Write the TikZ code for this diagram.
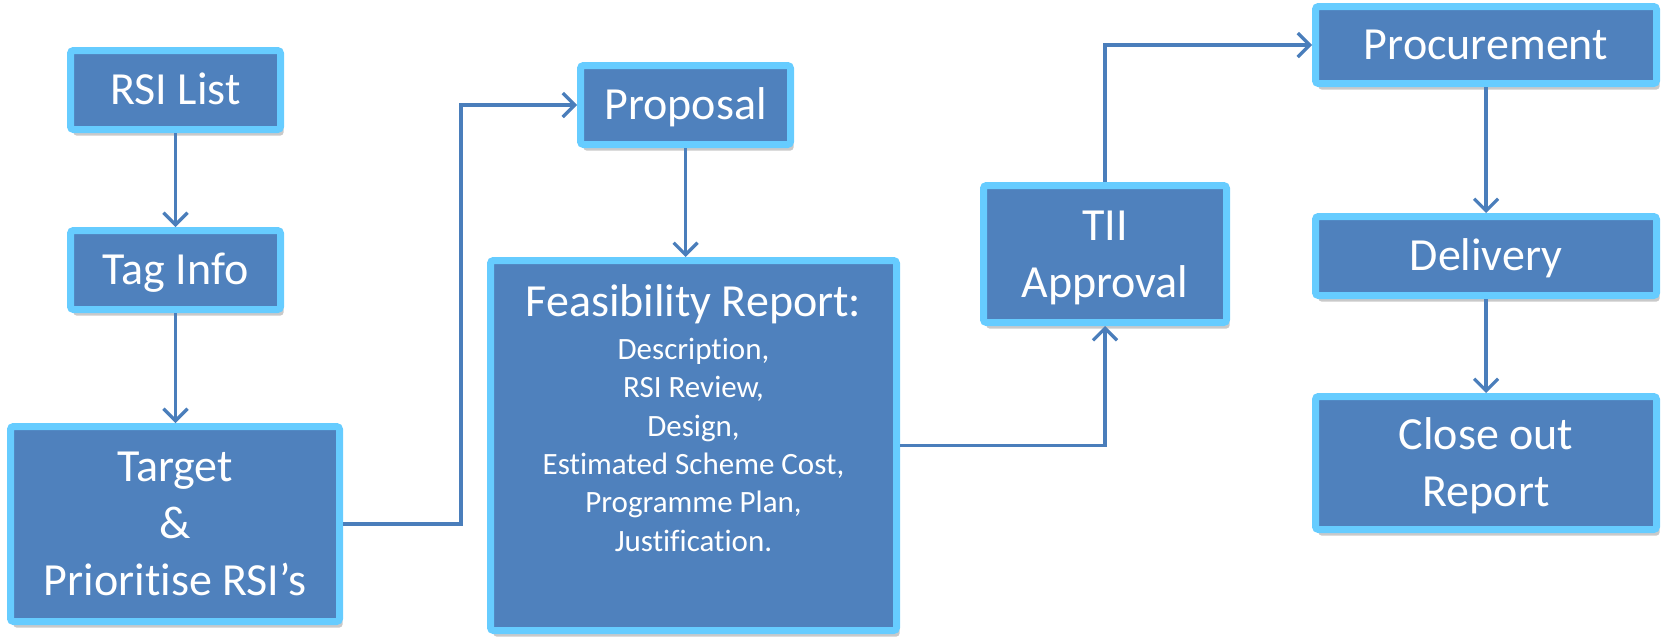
\documentclass[tikz,border=0pt]{standalone}
\usepackage{fontspec}
\setmainfont{Carlito}[Ligatures=NoCommon]
\usetikzlibrary{arrows.meta,shadows,calc}
\definecolor{boxfill}{HTML}{4F81BD}
\definecolor{boxedge}{HTML}{66CCFF}
\definecolor{flow}{HTML}{4A7EBB}

\tikzset{
  stage/.style={rectangle, fill=boxfill, draw=boxedge, line width=7pt,
    rounded corners=3pt, inner sep=0pt, text=white,
    font=\fontsize{46}{57}\selectfont, align=center,
    text height=29pt, text depth=0pt,
    drop shadow={shadow xshift=3pt, shadow yshift=-6pt, opacity=0.3, fill=black!70}},
  stagetext/.style={text=white, inner sep=0pt, align=center},
  flowline/.style={draw=flow, line width=3.2pt,
    -{Straight Barb[length=12pt,width=24pt]}},
}

\begin{document}
\begin{tikzpicture}[x=1pt,y=-1pt]
\useasboundingbox (0,0) rectangle (1662,638);

% process stages (text height covers the caps of all lines, so the block is centred)
\node[stage, minimum width=210pt, minimum height=79pt] (rsi) at (175.5,90) {RSI List};
\node[stage, minimum width=210pt, minimum height=79pt] (tag) at (175.5,270) {Tag Info};
\node[stage, minimum width=329pt, minimum height=195pt, text height=143pt] (target) at (175,524)
  {Target\\\&\\Prioritise RSI’s};
\node[stage, minimum width=210pt, minimum height=79pt] (prop) at (685.5,105) {Proposal};
\node[stage, minimum width=406pt, minimum height=370pt] (feas) at (693.5,445.5) {};
\node[stage, minimum width=243pt, minimum height=137pt, text height=87pt] (tii) at (1105,254)
  {TII\\Approval};
\node[stage, minimum width=341pt, minimum height=77pt] (proc) at (1486,45) {Procurement};
\node[stage, minimum width=341pt, minimum height=79pt] (deliv) at (1486,256) {Delivery};
\node[stage, minimum width=341pt, minimum height=133pt, text height=87pt] (close) at (1486,463)
  {Close out\\Report};

% contents of the feasibility report (base = baseline of the last line)
\node[stagetext, anchor=base, font=\fontsize{46}{57}\selectfont] (feastitle) at (693.5,316)
  {Feasibility Report:};
\node[stagetext, anchor=base, font=\fontsize{31}{38.3}\selectfont] (feasitems) at (693.5,551)
  {Description,\\RSI Review,\\Design,\\Estimated Scheme Cost,\\Programme Plan,\\Justification.};

% flow connectors
\coordinate (bendA) at (461,105);
\draw[flowline] (rsi.south) -- (rsi.south |- tag.north);
\draw[flowline] (tag.south) -- (tag.south |- target.north);
\draw[flowline] (target.east) -| (bendA) -- (prop.west);
\draw[flowline] (prop.south) -- (prop.south |- feas.north);
\draw[flowline] (feas.east) -| (tii.south);
\draw[flowline] (tii.north) |- (proc.west);
\draw[flowline] (proc.south) -- (deliv.north);
\draw[flowline] (deliv.south) -- (close.north);
\end{tikzpicture}
\end{document}
